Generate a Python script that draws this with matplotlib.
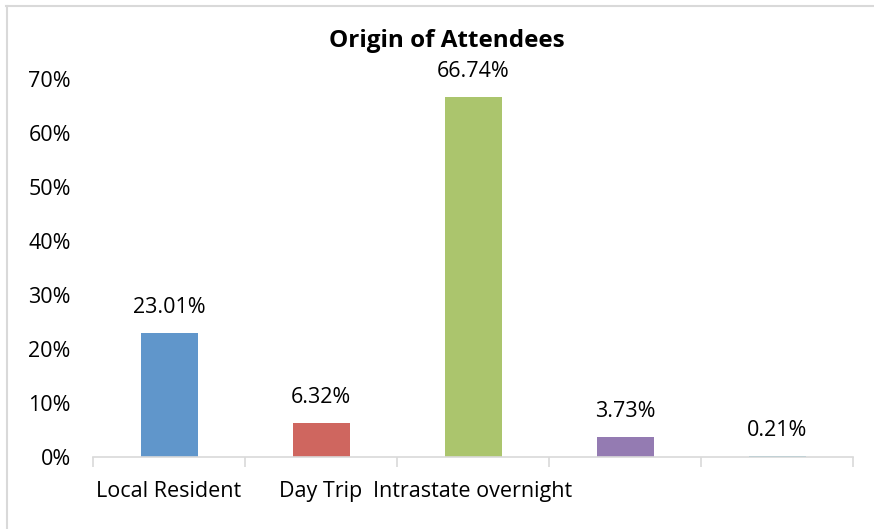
import matplotlib.pyplot as plt
from matplotlib.lines import Line2D
from matplotlib.ticker import PercentFormatter, FixedLocator

categories = ["Local Resident", "Day Trip", "Intrastate overnight", "", ""]
values = [23.01, 6.32, 66.74, 3.73, 0.21]
colors = ["#6096CB", "#CF665F", "#ABC56D", "#947BB2", "#4BACC6"]
y_ticks = [0, 10, 20, 30, 40, 50, 60, 70]

plt.rcParams['font.family'] = ['Open Sans', 'DejaVu Sans']

fig = plt.figure(figsize=(8.74, 5.29), dpi=100)
ax = fig.add_axes([93 / 874, 1 - 457 / 529, 760 / 874, 378 / 529])

x = list(range(len(values)))
ax.bar(x, values, width=0.375, color=colors)

for xi, v in zip(x, values):
    ax.annotate(f"{v:.2f}%", (xi, v), xytext=(0, 18), textcoords="offset points",
                ha="center", va="center", fontsize=15.5, color="#000000")

ax.set_xlim(-0.5, len(values) - 0.5)
ax.set_ylim(0, 70)
ax.set_yticks(y_ticks)
ax.yaxis.set_major_formatter(PercentFormatter(decimals=0))
ax.set_xticks(x)
ax.set_xticklabels(categories)
ax.xaxis.set_minor_locator(FixedLocator([i - 0.5 for i in range(len(values) + 1)]))

ax.tick_params(axis="x", which="major", length=0, pad=17, labelsize=15.5)
ax.tick_params(axis="x", which="minor", length=7, width=1.2, color="#D9D9D9", direction="out")
ax.tick_params(axis="y", length=0, pad=16, labelsize=15.5)

for side in ["top", "right", "left"]:
    ax.spines[side].set_visible(False)
ax.spines["bottom"].set_color("#D9D9D9")
ax.spines["bottom"].set_linewidth(1.2)

fig.text(447 / 874, 1 - 41 / 529, "Origin of Attendees", ha="center", va="center",
         fontsize=17.5, fontweight="bold")

# chart frame edges
fig.add_artist(Line2D([6 / 874, 1], [1 - 5.5 / 529, 1 - 5.5 / 529], color="#D9D9D9", lw=1.5,
                      transform=fig.transFigure))
fig.add_artist(Line2D([6.5 / 874, 6.5 / 874], [0, 1 - 5.5 / 529], color="#D9D9D9", lw=1.5,
                      transform=fig.transFigure))

fig.savefig("out.png", dpi=100, facecolor="white")
